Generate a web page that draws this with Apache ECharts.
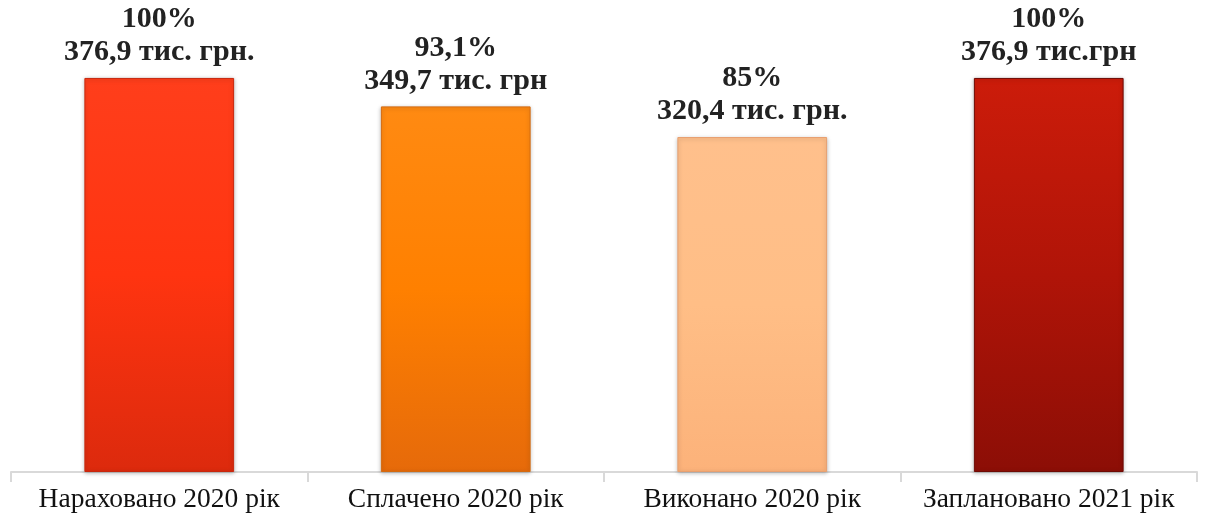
<!DOCTYPE html>
<html>
<head>
<meta charset="utf-8">
<script src="https://cdn.jsdelivr.net/npm/echarts@6/dist/echarts.min.js"></script>
<style>
html,body{margin:0;padding:0;background:#fff;}
#chart{width:1207px;height:531px;}
</style>
</head>
<body>
<div id="chart"></div>
<script>
const categories = ['Нараховано 2020 рік', 'Сплачено 2020 рік', 'Виконано 2020 рік', 'Заплановано 2021 рік'];
const values = [376.9, 349.7, 320.4, 376.9];
const percents = ['100%', '93,1%', '85%', '100%'];
const units = ['тис. грн.', 'тис. грн', 'тис. грн.', 'тис.грн'];

const barColors = [
  ['#FF3E1B', '#FF3410', '#DC2A0D'],
  ['#FF8A12', '#FF8000', '#E66A0A'],
  ['#FFC08C', '#FFBE86', '#FCB27A'],
  ['#CC1C0A', '#B01408', '#8C0E06']
];
const borderColors = ['#C8280E', '#D46A10', '#E8A070', '#6E0A04'];

const chart = echarts.init(document.getElementById('chart'));
const fmt = v => v.toFixed(1).replace('.', ',');

chart.setOption({
  animation: false,
  grid: { left: 11, right: 10, top: 40, bottom: 59, containLabel: false },
  xAxis: {
    type: 'category',
    data: categories,
    boundaryGap: true,
    axisLine: { show: true, lineStyle: { color: '#D9D9D9', width: 2 } },
    axisTick: { show: true, length: 10, alignWithLabel: false, lineStyle: { color: '#D9D9D9', width: 2 } },
    axisLabel: {
      color: '#111',
      fontFamily: '"Liberation Serif", "Times New Roman", serif',
      fontSize: 27.5,
      margin: 14,
      interval: 0
    }
  },
  yAxis: {
    type: 'value',
    min: 0,
    max: 413.2,
    show: false,
    splitLine: { show: false }
  },
  series: [{
    type: 'bar',
    barWidth: '50.5%',
    data: values.map((v, i) => ({
      value: v,
      itemStyle: {
        color: {
          type: 'linear', x: 0, y: 0, x2: 0, y2: 1,
          colorStops: [
            { offset: 0, color: barColors[i][0] },
            { offset: 0.5, color: barColors[i][1] },
            { offset: 1, color: barColors[i][2] }
          ]
        },
        borderColor: borderColors[i],
        borderWidth: 1,
        shadowBlur: 4,
        shadowColor: 'rgba(0,0,0,0.25)',
        shadowOffsetY: 1
      },
      label: {
        formatter: percents[i] + '\n' + fmt(v) + ' ' + units[i]
      }
    })),
    label: {
      show: true,
      position: 'top',
      distance: 9,
      color: '#222',
      fontFamily: '"Liberation Serif", "Times New Roman", serif',
      fontWeight: 'bold',
      fontSize: 30,
      lineHeight: 33,
      align: 'center'
    }
  }]
});
</script>
</body>
</html>
